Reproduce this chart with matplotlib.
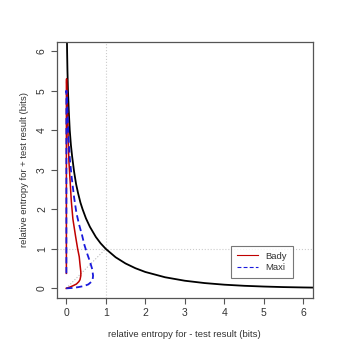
import matplotlib
matplotlib.use("Agg")
import matplotlib.pyplot as plt

plt.rcParams['font.family'] = ['Liberation Sans', 'DejaVu Sans']

# boundary curve (black)
bound_x = [0.011, 0.016, 0.023, 0.032, 0.045, 0.065, 0.09, 0.12, 0.15, 0.2, 0.25, 0.3,
           0.36, 0.415, 0.5, 0.6, 0.75, 0.87, 1.0, 1.25, 1.5, 1.75, 2.0, 2.5, 3.0,
           3.5, 4.0, 4.5, 5.0, 5.5, 6.0, 6.5]
bound_y = [7.0, 6.5, 6.0, 5.5, 5.0, 4.5, 4.0, 3.62, 3.34, 2.95, 2.64, 2.41,
           2.17, 2.0, 1.77, 1.556, 1.30, 1.14, 1.0, 0.787, 0.63, 0.51, 0.415, 0.281, 0.193,
           0.134, 0.093, 0.065, 0.046, 0.032, 0.023, 0.016]

# Bady (red solid)
bady_x = [0, 0.09, 0.18, 0.26, 0.32, 0.35, 0.37, 0.37, 0.35, 0.33, 0.29, 0.24, 0.17,
          0.13, 0.1, 0.07, 0.05, 0.035, 0.02, 0.01, 0.005, 0.005]
bady_y = [0, 0.03, 0.07, 0.11, 0.17, 0.22, 0.32, 0.42, 0.6, 0.8, 1.0, 1.3, 1.75,
          2.2, 2.7, 3.2, 3.8, 4.4, 5.0, 5.3, 5.2, 0.38]

# Maxi (blue dashed)
maxi_x = [0, 0.15, 0.3, 0.45, 0.56, 0.63, 0.67, 0.68, 0.66, 0.6, 0.53, 0.46, 0.4,
          0.33, 0.26, 0.2, 0.14, 0.09, 0.06, 0.04, 0.02, 0.005, 0.005]
maxi_y = [0, 0.01, 0.03, 0.06, 0.1, 0.16, 0.23, 0.32, 0.48, 0.68, 0.88, 1.1, 1.35,
          1.6, 1.9, 2.3, 2.8, 3.3, 3.8, 4.3, 4.8, 5.0, 0.38]

fig = plt.figure(figsize=(3.5, 3.5), dpi=100)
ax = fig.add_axes([0.162, 0.149, 0.732, 0.732])

ax.axvline(1, color='#cccccc', lw=0.8, ls=':')
ax.axhline(1, color='#cccccc', lw=0.8, ls=':')
ax.plot([0, 1], [0, 1], color='#bbbbbb', lw=0.8, ls=':')

ax.plot(bound_x, bound_y, color='black', lw=1.3)
ax.plot(bady_x, bady_y, color='#c00000', lw=1.1, label='Bady')
ax.plot(maxi_x, maxi_y, color='#1a1adc', lw=1.3, ls=(0, (3.5, 2)), label='Maxi')

ax.set_xlim(-0.24, 6.24)
ax.set_ylim(-0.24, 6.24)
ax.set_xticks(range(7))
ax.set_yticks(range(7))
ax.tick_params(labelsize=7.5, length=4, width=0.8, color='#555555', labelcolor='#333333', pad=3)
for lab in ax.get_yticklabels():
    lab.set_rotation(90)
    lab.set_va('center')
for s in ax.spines.values():
    s.set_color('#555555')
    s.set_linewidth(0.9)

ax.set_xlabel('relative entropy for - test result (bits)', fontsize=6.8, color='#333333', labelpad=9)
ax.set_ylabel('relative entropy for + test result (bits)', fontsize=6.8, color='#333333', labelpad=6)

leg = ax.legend(loc='lower right', bbox_to_anchor=(0.921, 0.077), borderaxespad=0, fontsize=6.8,
                frameon=True, fancybox=False, edgecolor='#555555', handlelength=2.2,
                borderpad=0.6, labelspacing=0.3)
leg.get_frame().set_linewidth(0.8)
for t in leg.get_texts():
    t.set_color('#333333')
for h in leg.get_lines():
    h.set_linewidth(0.8)

fig.savefig('out.png', dpi=100)
